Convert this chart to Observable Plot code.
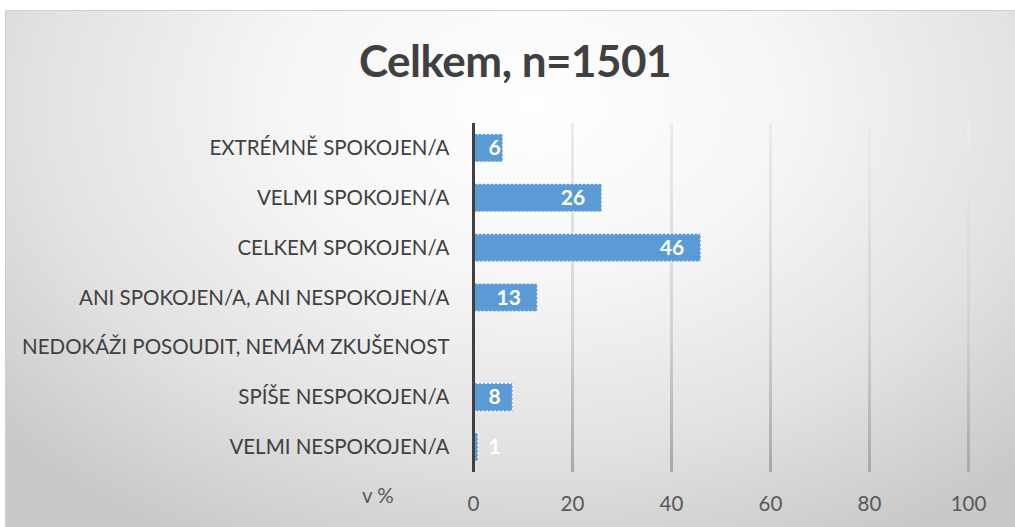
<!DOCTYPE html>
<html>
<head>
<meta charset="utf-8">
<script src="https://cdn.jsdelivr.net/npm/d3@7"></script>
<script src="https://cdn.jsdelivr.net/npm/@observablehq/plot@0.6"></script>
<style>
  html, body { margin: 0; padding: 0; background: #ffffff; }
  #wrap { position: relative; width: 1015px; height: 527px; overflow: hidden; font-family: Lato, "Open Sans", sans-serif; }
  #frame { position: absolute; left: 5px; top: 10px; width: 1012px; height: 520px;
    border-top: 1px solid #cfcfcf; border-left: 1px solid #cfcfcf;
    background: radial-gradient(ellipse 70% 95% at 52% 18%, #ffffff 0%, #f6f6f6 35%, #e2e2e2 70%, #c9c9c9 100%); }
  #title { position: absolute; left: 0; width: 1030px; top: 34px; text-align: center;
    font-family: Lato, sans-serif; font-weight: 700; font-size: 44px; color: #404040; letter-spacing: -0.5px; }
  #unit { position: absolute; left: 362px; top: 483px; font-size: 20.5px; color: #595959; }
  #chart { position: absolute; left: 0; top: 0; }
</style>
</head>
<body>
<div id="wrap">
  <div id="frame"></div>
  <div id="title">Celkem, n=1501</div>
  <div id="unit">v %</div>
  <div id="chart"></div>
</div>
<script>
const categories = [
  "EXTRÉMNĚ SPOKOJEN/A",
  "VELMI SPOKOJEN/A",
  "CELKEM SPOKOJEN/A",
  "ANI SPOKOJEN/A, ANI NESPOKOJEN/A",
  "NEDOKÁŽI POSOUDIT, NEMÁM ZKUŠENOST",
  "SPÍŠE NESPOKOJEN/A",
  "VELMI NESPOKOJEN/A"
];
const values = [6, 26, 46, 13, null, 8, 1];
const xTicks = [0, 20, 40, 60, 80, 100];

const data = categories.map((c, i) => ({category: c, value: values[i]}));
const bars = data.filter(d => d.value != null);

const chart = Plot.plot({
  width: 1015,
  height: 527,
  marginLeft: 473,
  marginRight: 47,
  marginTop: 123,
  marginBottom: 55,
  style: {background: "transparent", fontFamily: "Lato, 'Open Sans', sans-serif", fontSize: "20px"},
  x: {domain: [0, 100], ticks: xTicks, label: null},
  y: {domain: categories, paddingInner: 0.44, paddingOuter: 0.22, round: false, label: null},
  marks: [
    Plot.ruleX(xTicks.filter(t => t > 0), {stroke: "url(#gridgrad)", strokeWidth: 3}),
    Plot.barX(bars, {x: "value", y: "category", fill: "#5B9BD5", stroke: "#ffffff", strokeOpacity: 0.85, strokeWidth: 1.5, strokeDasharray: "2,2"}),
    Plot.ruleX([0], {stroke: "#404040", strokeWidth: 3}),
    Plot.text(bars.filter(d => d.value >= 10), {x: "value", y: "category", text: d => String(d.value), textAnchor: "end", dx: -17, fill: "#ffffff", fontWeight: 700, fontSize: 21}),
    Plot.text(bars.filter(d => d.value < 10), {x: 0, y: "category", text: d => String(d.value), textAnchor: "start", dx: 15, fill: "#ffffff", fontWeight: 700, fontSize: 21}),
    Plot.axisX({ticks: xTicks, tickSize: 0, tickPadding: 24, color: "#595959", fontSize: 20.5, label: null}),
    Plot.axisY({tickSize: 0, tickPadding: 24, color: "#404040", fontSize: 20.5, label: null})
  ]
});

// gradient for gridlines (lighter at top, darker at bottom)
const ns = "http://www.w3.org/2000/svg";
const defs = document.createElementNS(ns, "defs");
const lg = document.createElementNS(ns, "linearGradient");
lg.setAttribute("id", "gridgrad");
lg.setAttribute("gradientUnits", "userSpaceOnUse");
lg.setAttribute("x1", "0"); lg.setAttribute("x2", "0");
lg.setAttribute("y1", "123"); lg.setAttribute("y2", "472");
[["0%", "#ececec"], ["60%", "#d2d2d2"], ["100%", "#a8a8a8"]].forEach(([o, c]) => {
  const s = document.createElementNS(ns, "stop");
  s.setAttribute("offset", o); s.setAttribute("stop-color", c);
  lg.appendChild(s);
});
defs.appendChild(lg);
chart.insertBefore(defs, chart.firstChild);

document.getElementById("chart").appendChild(chart);
</script>
</body>
</html>
